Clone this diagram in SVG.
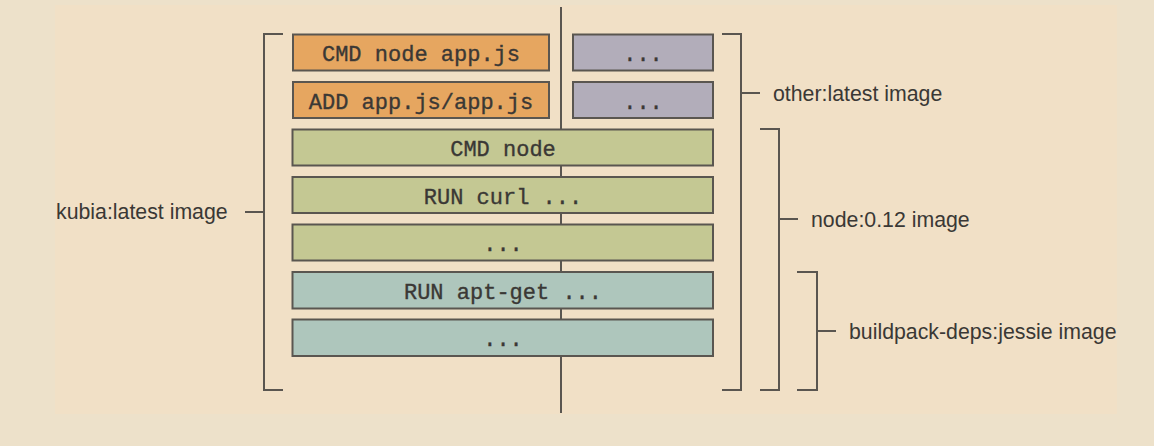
<svg xmlns="http://www.w3.org/2000/svg" width="1154" height="446" viewBox="0 0 1154 446">
<style>
.box{stroke:#5a5650;stroke-width:2}
.orange{fill:#e6a660}
.gray{fill:#b2adba}
.green{fill:#c4c893}
.teal{fill:#aec6bc}
.mono{font-family:"Liberation Mono","Courier New",monospace;font-size:22px;fill:#3a3835;stroke:#3a3835;stroke-width:0.35;text-anchor:middle}
.lbl{font-family:"Liberation Sans",Arial,sans-serif;font-size:21.3px;fill:#3a3835}
.ln{fill:none;stroke:#5a5650;stroke-width:2}
</style>
<rect width="1154" height="446" fill="#ede1ca"/>
<rect x="55" y="5" width="1062" height="409" fill="#f1e0c6"/>
<g id="connectors">
<line class="ln" x1="561" y1="7" x2="561" y2="413"/>
<path class="ln" d="M283,34 H264 V390 H283 M264,212 H245"/>
<path class="ln" d="M722,34 H741 V390 H722 M741,93 H760"/>
<path class="ln" d="M760,129 H779 V390 H760 M779,219 H798"/>
<path class="ln" d="M797,272 H817 V390 H797 M817,331 H836"/>
</g>
<g id="n-cmd-app"><rect class="box orange" x="293" y="34.5" width="256" height="36"/><text class="mono" x="421" y="61">CMD node app.js</text></g>
<g id="n-add-app"><rect class="box orange" x="293" y="82" width="256" height="36"/><text class="mono" x="421" y="108.5">ADD app.js/app.js</text></g>
<g id="n-other1"><rect class="box gray" x="573" y="34.5" width="140" height="36"/><text class="mono" x="643" y="61">...</text></g>
<g id="n-other2"><rect class="box gray" x="573" y="82" width="140" height="36"/><text class="mono" x="643" y="108.5">...</text></g>
<g id="n-cmd-node"><rect class="box green" x="292.5" y="129.5" width="420.5" height="36"/><text class="mono" x="503" y="156">CMD node</text></g>
<g id="n-run-curl"><rect class="box green" x="292.5" y="177" width="420.5" height="36"/><text class="mono" x="503" y="203.5">RUN curl ...</text></g>
<g id="n-node-more"><rect class="box green" x="292.5" y="224.5" width="420.5" height="36"/><text class="mono" x="503" y="251">...</text></g>
<g id="n-run-apt"><rect class="box teal" x="292.5" y="272" width="420.5" height="36.5"/><text class="mono" x="503" y="298.5">RUN apt-get ...</text></g>
<g id="n-deps-more"><rect class="box teal" x="292.5" y="319.5" width="420.5" height="36.5"/><text class="mono" x="503" y="346">...</text></g>
<g id="labels">
<text class="lbl" x="56" y="219">kubia:latest image</text>
<text class="lbl" x="773" y="101">other:latest image</text>
<text class="lbl" x="811" y="227">node:0.12 image</text>
<text class="lbl" x="849" y="339">buildpack-deps:jessie image</text>
</g>
</svg>
